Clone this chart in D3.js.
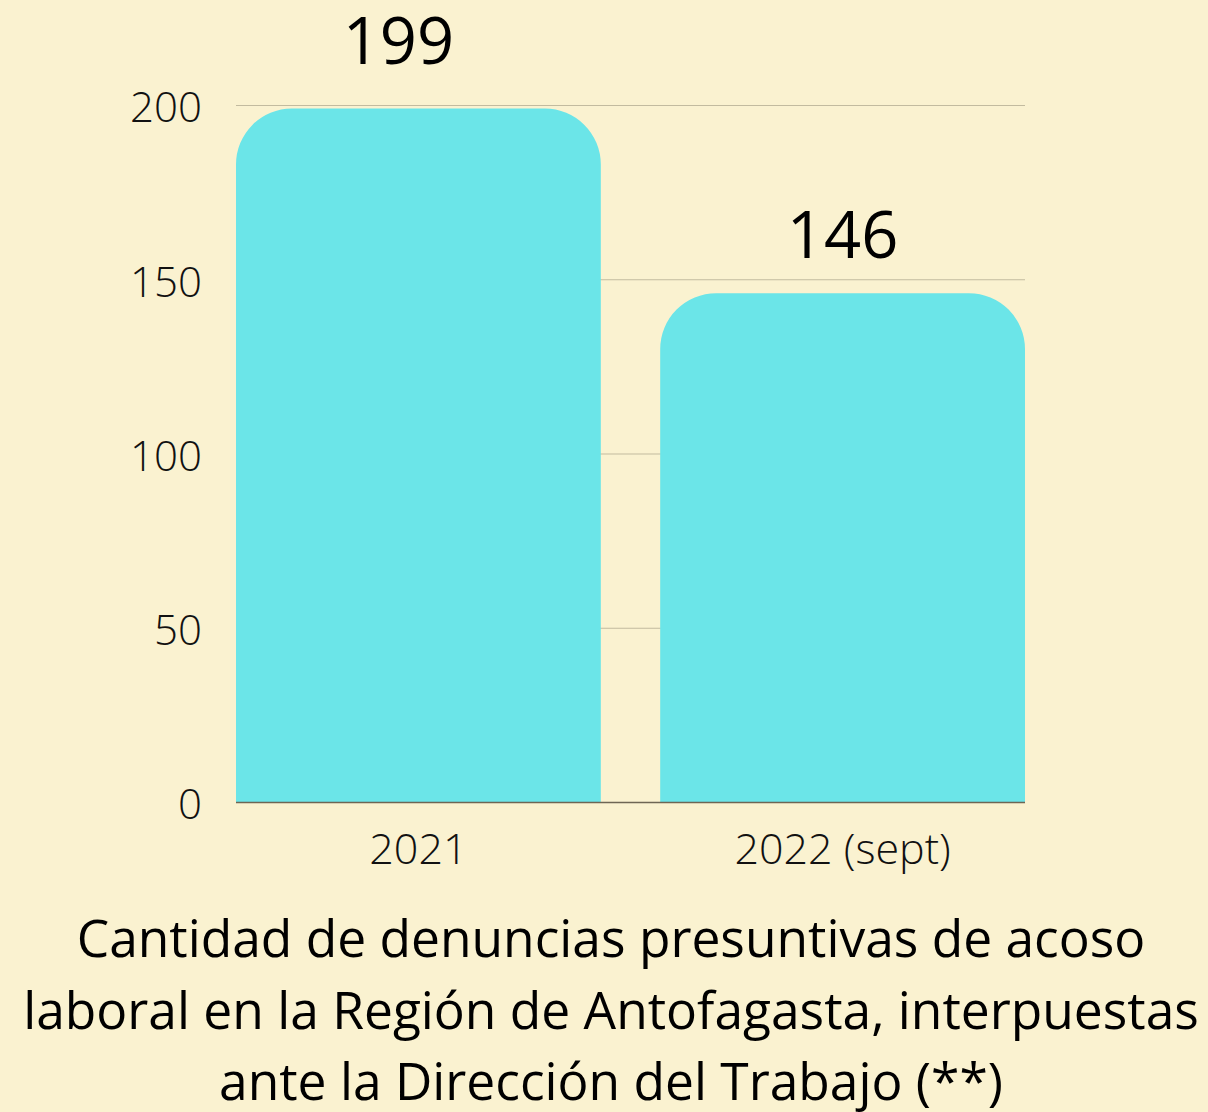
<!DOCTYPE html>
<html>
<head>
<meta charset="utf-8">
<script src="https://cdn.jsdelivr.net/npm/d3@7"></script>
<style>
  html, body { margin: 0; padding: 0; background: #faf2d0; }
  svg text { font-family: "Open Sans", sans-serif; }
</style>
</head>
<body>
<div id="chart"></div>
<script>
const CATEGORIES = ["2021", "2022 (sept)"];
const VALUES = [199, 146];
const Y_TICKS = [0, 50, 100, 150, 200];
const TITLE_LINES = [
  "Cantidad de denuncias presuntivas de acoso",
  "laboral en la Región de Antofagasta, interpuestas",
  "ante la Dirección del Trabajo (**)"
];

const W = 1208, H = 1112;
const margin = { top: 105, right: 183, bottom: 310, left: 236 };
const width = W - margin.left - margin.right,
      height = H - margin.top - margin.bottom;

const svg = d3.select("#chart")
  .append("svg")
  .attr("width", W)
  .attr("height", H)
  .style("display", "block");

svg.append("rect").attr("width", W).attr("height", H).attr("fill", "#faf2d0");

const g = svg.append("g")
  .attr("transform", `translate(${margin.left}, ${margin.top})`);

/* -------------------- SCALES -------------------- */
const x = d3.scaleBand()
  .domain(CATEGORIES)
  .range([0, width])
  .paddingInner(0.14)
  .paddingOuter(0);

const y = d3.scaleLinear()
  .domain([0, 200])
  .range([height, 0]);

// gridlines
g.selectAll(".grid")
  .data(Y_TICKS.filter(d => d > 0))
  .join("line")
  .attr("class", "grid")
  .attr("x1", 0)
  .attr("x2", width)
  .attr("y1", d => y(d) + 0.5)
  .attr("y2", d => y(d) + 0.5)
  .attr("stroke", "#c2bb9f")
  .attr("stroke-width", 1);

// y axis labels
const yAxis = g.append("g")
  .call(d3.axisLeft(y).tickValues(Y_TICKS).tickSize(0).tickPadding(34));
yAxis.select(".domain").remove();
yAxis.selectAll("text")
  .attr("dy", "0.4em")
  .style("font-family", "'Open Sans', sans-serif")
  .style("font-size", "42px")
  .style("font-weight", 300)
  .attr("fill", "#111");

/* -------------------- BARS -------------------- */
const r = 56;
function topRounded(x0, y0, w, h, r) {
  const rr = Math.min(r, w / 2, h);
  return `M${x0},${y0 + h}` +
    `V${y0 + rr}` +
    `A${rr},${rr} 0 0 1 ${x0 + rr},${y0}` +
    `H${x0 + w - rr}` +
    `A${rr},${rr} 0 0 1 ${x0 + w},${y0 + rr}` +
    `V${y0 + h}Z`;
}

const data = CATEGORIES.map((c, i) => ({ cat: c, value: VALUES[i] }));

g.selectAll(".bar")
  .data(data)
  .join("path")
  .attr("class", "bar")
  .attr("d", d => topRounded(x(d.cat), y(d.value), x.bandwidth(), height - y(d.value), r))
  .attr("fill", "#6be5e8");

// baseline
g.append("line")
  .attr("x1", 0).attr("x2", width)
  .attr("y1", height + 0.5).attr("y2", height + 0.5)
  .attr("stroke", "#6e6654")
  .attr("stroke-width", 1.5);

// value labels (the first one sits a bit left and higher in the original)
g.selectAll(".val")
  .data(data)
  .join("text")
  .attr("class", "val")
  .attr("x", (d, i) => x(d.cat) + x.bandwidth() / 2 - (i === 0 ? 20 : 0))
  .attr("y", (d, i) => y(d.value) - (i === 0 ? 45 : 35))
  .attr("text-anchor", "middle")
  .style("font-size", "65px")
  .attr("fill", "#000")
  .text(d => d.value);

// x axis labels
const xAxis = g.append("g")
  .attr("transform", `translate(0, ${height})`)
  .call(d3.axisBottom(x).tickSize(0).tickPadding(31));
xAxis.select(".domain").remove();
xAxis.selectAll("text")
  .style("font-family", "'Open Sans', sans-serif")
  .style("font-size", "43px")
  .style("font-weight", 300)
  .attr("fill", "#111");

/* -------------------- TITLE -------------------- */
svg.append("text")
  .attr("x", 611)
  .attr("y", 957)
  .attr("text-anchor", "middle")
  .style("font-size", "51.5px")
  .attr("fill", "#000")
  .selectAll("tspan")
  .data(TITLE_LINES)
  .join("tspan")
  .attr("x", 611)
  .attr("dy", (d, i) => i === 0 ? 0 : 71.5)
  .text(d => d);
</script>
</body>
</html>
